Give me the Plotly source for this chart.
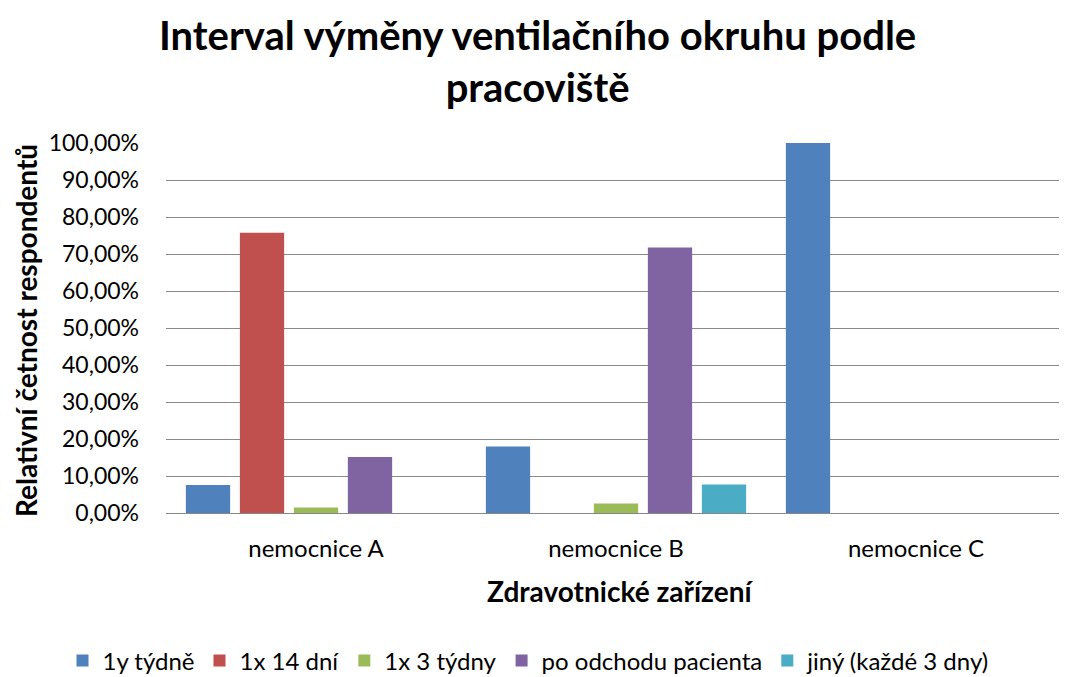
import plotly.graph_objects as go

categories = ["nemocnice A", "nemocnice B", "nemocnice C"]
series_names = ["1y týdně", "1x 14 dní", "1x 3 týdny", "po odchodu pacienta", "jiný (každé 3 dny)"]
colors = ["#4F81BD", "#C0504D", "#9BBB59", "#8064A2", "#4BACC6"]
v_tydne = [0.0758, 0.1795, 1.0]
v_14dni = [0.7576, 0.0, 0.0]
v_3tydny = [0.0152, 0.0256, 0.0]
v_odchod = [0.1515, 0.7179, 0.0]
v_jiny = [0.0, 0.0769, 0.0]
values = [v_tydne, v_14dni, v_3tydny, v_odchod, v_jiny]

title_text = "<b>Interval výměny ventilačního okruhu podle<br>pracoviště</b>"
x_title = "<b>Zdravotnické zařízení</b>"
y_title = "<b>Relativní četnost respondentů</b>"

font_family = "Lato, 'Open Sans', sans-serif"

fig = go.Figure()
for name, col, vals in zip(series_names, colors, values):
    fig.add_trace(go.Bar(name=name, x=categories, y=vals, marker=dict(color=col, line=dict(width=0))))

fig.update_layout(
    width=1059, height=669,
    separators=", ",
    barmode="group", bargap=0.1, bargroupgap=0.18,
    paper_bgcolor="white", plot_bgcolor="white",
    font=dict(family=font_family, color="black", size=22),
    margin=dict(l=158, r=1, t=135, b=164, autoexpand=False),
    xaxis=dict(showline=True, linecolor="#868686", linewidth=1, ticks="", automargin=False,
               tickfont=dict(size=24), ticklabelstandoff=14),
    yaxis=dict(range=[0, 1.0], dtick=0.1, tickformat=".2%", showgrid=True, gridcolor="#8a8a8a",
               gridwidth=1, zeroline=False, showline=False, automargin=False,
               ticks="", ticklabelstandoff=26,
               tickfont=dict(size=23)),
    legend=dict(orientation="h", x=-0.115, xanchor="left", y=-0.4, yanchor="middle",
                font=dict(size=24), itemwidth=30, traceorder="normal"),
    annotations=[
        dict(text=title_text, xref="paper", yref="paper", x=0.4128, y=1.222, xanchor="center",
             yanchor="middle", showarrow=False, font=dict(size=40, family=font_family)),
        dict(text=x_title, xref="paper", yref="paper", x=0.5044, y=-0.211, xanchor="center",
             yanchor="middle", showarrow=False, font=dict(size=28, family=font_family)),
        dict(text=y_title, xref="paper", yref="paper", x=-0.1555, y=0.492, xanchor="center",
             yanchor="middle", textangle=-90, showarrow=False, font=dict(size=28, family=font_family)),
    ],
)

fig.write_html("out.html")
